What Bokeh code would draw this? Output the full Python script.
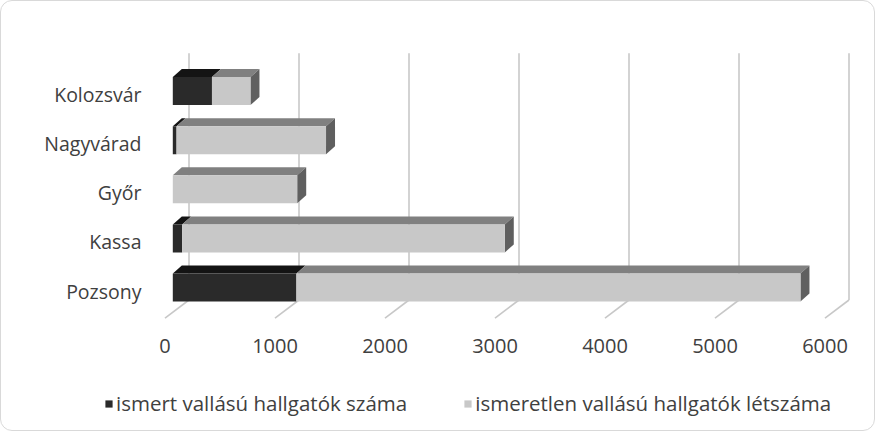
from bokeh.plotting import figure
from bokeh.models import Range1d, LinearAxis, FixedTicker, Legend, LegendItem
from bokeh.layouts import column
from bokeh.embed import file_html
from bokeh.resources import INLINE

# ---- data ----
categories = ["Pozsony", "Kassa", "Győr", "Nagyvárad", "Kolozsvár"]
known = [1124, 85, 0, 34, 356]          # ismert vallású hallgatók száma
unknown = [4582, 2933, 1131, 1359, 350]  # ismeretlen vallású hallgatók létszáma
x_ticks = [0, 1000, 2000, 3000, 4000, 5000, 6000]
series_names = ["ismert vallású hallgatók száma",
                "ismeretlen vallású hallgatók létszáma"]

# ---- geometry (pixel layout converted to data units) ----
W, H1, H2 = 875, 380, 51
PXX = 1000 / 110.0      # value units per pixel (horizontal)
PXY = 1 / 49.1          # category units per pixel (vertical)
ZERO_PX = 172.3         # x of value 0 on the bar front plane
BASE_PY = 287.0         # y of first category centre
FR_L, FR_R, FR_T, FR_B = 150, 870, 40, 330   # frame in pixels

xs0 = (FR_L - ZERO_PX) * PXX
xs1 = (FR_R - ZERO_PX) * PXX
ys0 = -(FR_B - BASE_PY) * PXY
ys1 = (BASE_PY - FR_T) * PXY

BAR_H = 28 * PXY
DX = 9 * PXX             # bar depth, horizontal
DY = 8 * PXY             # bar depth, vertical
WALL_DX = 16.2 * PXX     # back wall offset
FLOOR_DX = -7.8 * PXX    # front floor edge offset
WALL_BOT = -12.5 * PXY
WALL_TOP = (BASE_PY - 52.7) * PXY
FLOOR_Y = -30.7 * PXY
LABEL_DY = 3.5 * PXY

TEXT = "#404040"
FONT = "Open Sans"
C_KNOWN, C_UNKNOWN = "#2a2a2a", "#c8c8c8"

p = figure(width=W, height=H1, x_range=Range1d(xs0, xs1), y_range=Range1d(ys0, ys1),
           x_axis_location=None, y_axis_location=None, toolbar_location=None,
           output_backend="svg", min_border_left=FR_L, min_border_right=W - FR_R,
           min_border_top=FR_T, min_border_bottom=H1 - FR_B, outline_line_color=None,
           border_fill_alpha=0, background_fill_alpha=0, frame_align=False)
p.xgrid.visible = False
p.ygrid.visible = False

p.extra_x_ranges = {"floor": Range1d(xs0 - FLOOR_DX, xs1 - FLOOR_DX)}
p.extra_y_ranges = {"labels": Range1d(ys0 + LABEL_DY, ys1 + LABEL_DY)}

# back wall gridlines and floor diagonals
wx = [t + WALL_DX for t in x_ticks]
fx = [t + FLOOR_DX for t in x_ticks]
p.segment(x0=wx, y0=[WALL_BOT] * len(wx), x1=wx, y1=[WALL_TOP] * len(wx),
          line_color="#c8c8c8", line_width=1.6)
p.segment(x0=wx, y0=[WALL_BOT] * len(wx), x1=fx, y1=[FLOOR_Y] * len(wx),
          line_color="#c8c8c8", line_width=1.6)

idx = list(range(len(categories)))
total = [k + u for k, u in zip(known, unknown)]

top_k_x, top_k_y, top_u_x, top_u_y, side_x, side_y = [], [], [], [], [], []
for i, k, t in zip(idx, known, total):
    yt = i + BAR_H / 2
    yb = i - BAR_H / 2
    top_k_x.append([0, k, k + DX, DX])
    top_k_y.append([yt, yt, yt + DY, yt + DY])
    top_u_x.append([k, t, t + DX, k + DX])
    top_u_y.append([yt, yt, yt + DY, yt + DY])
    side_x.append([t, t + DX, t + DX, t])
    side_y.append([yb, yb + DY, yt + DY, yt])

p.patches(top_k_x, top_k_y, fill_color="#141414", line_color=None)
p.patches(top_u_x, top_u_y, fill_color="#808080", line_color=None)
p.patches(side_x, side_y, fill_color="#5f5f5f", line_color=None)

p.hbar(y=idx, left=0, right=known, height=BAR_H, fill_color=C_KNOWN, line_color=None)
p.hbar(y=idx, left=known, right=total, height=BAR_H, fill_color=C_UNKNOWN, line_color=None)

# axes
xaxis = LinearAxis(x_range_name="floor", ticker=FixedTicker(ticks=x_ticks),
                   axis_line_color=None, major_tick_line_color=None,
                   minor_tick_line_color=None, major_label_standoff=2,
                   major_label_text_font=FONT, major_label_text_font_size="20px",
                   major_label_text_color=TEXT)
p.add_layout(xaxis, "below")

yaxis = LinearAxis(y_range_name="labels", ticker=FixedTicker(ticks=idx),
                   major_label_overrides={i: c for i, c in enumerate(categories)},
                   axis_line_color=None, major_tick_line_color=None,
                   minor_tick_line_color=None, major_label_standoff=3,
                   major_label_text_font=FONT, major_label_text_font_size="19.5px",
                   major_label_text_color=TEXT)
p.add_layout(yaxis, "left")

# ---- legend strip ----
p2 = figure(width=W, height=H2, x_range=Range1d(0, 1), y_range=Range1d(0, 1),
            x_axis_location=None, y_axis_location=None, toolbar_location=None,
            output_backend="svg", min_border=0, outline_line_color=None,
            border_fill_alpha=0, background_fill_alpha=0, frame_align=False)
p2.xgrid.visible = False
p2.ygrid.visible = False
# legend proxies, kept outside the visible range
lk = p2.hbar(y=[-5], left=[0], right=[1], height=0.5, fill_color=C_KNOWN, line_color=None)
lu = p2.hbar(y=[-5], left=[0], right=[1], height=0.5, fill_color=C_UNKNOWN, line_color=None)
legend = Legend(items=[LegendItem(label=series_names[0], renderers=[lk]),
                       LegendItem(label=series_names[1], renderers=[lu])],
                orientation="horizontal", location=(104, 14),
                glyph_width=9, glyph_height=9, label_standoff=3, spacing=56,
                padding=0, margin=0, border_line_color=None,
                background_fill_alpha=0, label_text_font=FONT,
                label_text_font_size="20.5px", label_text_color=TEXT)
p2.add_layout(legend, "center")

layout = column(p, p2, spacing=0,
                styles={"outline": "1px solid #d9d9d9", "outline-offset": "-1px",
                        "border-radius": "12px", "background-color": "white"})

open("out.html", "w").write(file_html(layout, INLINE))
